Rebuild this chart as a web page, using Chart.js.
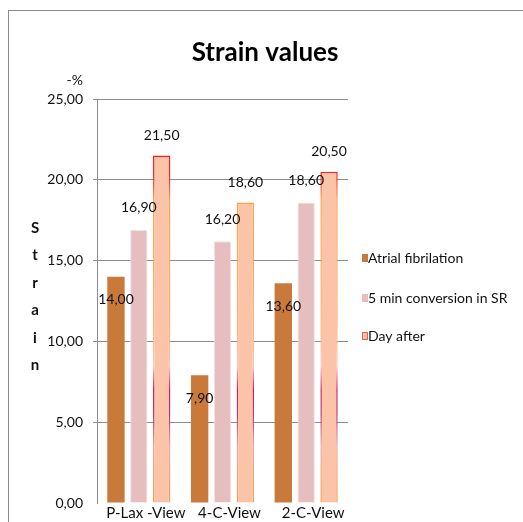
<!DOCTYPE html>
<html>
<head>
<meta charset="utf-8">
<title>Strain values</title>
<script src="https://cdn.jsdelivr.net/npm/chart.js@4/dist/chart.umd.min.js"></script>
<style>
  html, body { margin: 0; padding: 0; background: #fff; overflow: hidden; }
  #wrap { position: relative; width: 523px; height: 522px; }
  #frame { position: absolute; left: 8px; top: 10px; right: 0; bottom: 0;
           border-top: 1px solid #8a8a8a; border-left: 1px solid #8a8a8a; pointer-events: none; }
  canvas { position: absolute; left: 0; top: 0; }
</style>
</head>
<body>
<div id="wrap">
  <canvas id="chart" width="523" height="522"></canvas>
  <div id="frame"></div>
</div>
<script>
// Echocardiographic views on the category axis
const views = ['P-Lax -View', '4-C-View', '2-C-View'];

// Strain (-%) per view for each measurement time
const atrialFibrilation = [14.0, 7.9, 13.6];
const conversion5min = [16.9, 16.2, 18.6];
const dayAfter = [21.5, 18.6, 20.5];

const seriesNames = ['Atrial fibrilation', '5 min conversion in SR', 'Day after'];
const yTickValues = [0, 5, 10, 15, 20, 25];
const chartTitle = 'Strain values';
const unitLabel = '-%';
const axisWord = 'Strain';

const FONT = "Lato, 'DejaVu Sans Condensed', sans-serif";
const fmt = v => v.toFixed(2).replace('.', ',');

const ORANGE = '#C97A3B';
const PINK = '#E7BEC0';
const PEACH = '#FBC4A8';

// Outline of the "Day after" bars: red at the top, orange further down,
// with a crimson band lower on the bars.
let dayBorderGradient = null;
function dayBorder(ctx) {
  const chart = ctx.chart;
  const a = chart.chartArea;
  if (!a) return '#F5A040';
  if (!dayBorderGradient) {
    const g = chart.ctx.createLinearGradient(0, a.top, 0, a.bottom);
    g.addColorStop(0.00, '#FF1010');
    g.addColorStop(0.19, '#FF2020');
    g.addColorStop(0.25, '#F5A545');
    g.addColorStop(0.58, '#F8B57A');
    g.addColorStop(0.66, '#F9C8C8');
    g.addColorStop(0.72, '#D8145A');
    g.addColorStop(0.78, '#C03070');
    g.addColorStop(0.86, '#E8A8A8');
    g.addColorStop(1.00, '#F5A040');
    dayBorderGradient = g;
  }
  return dayBorderGradient;
}

// Vertical offset of each series' value label from the bar top
const labelOffsets = [23, -22, -20];

const extrasPlugin = {
  id: 'extras',
  afterDatasetsDraw(chart) {
    const ctx = chart.ctx;
    ctx.save();
    ctx.font = '14px ' + FONT;
    ctx.fillStyle = '#111';
    ctx.textAlign = 'center';
    ctx.textBaseline = 'middle';
    chart.data.datasets.forEach((ds, di) => {
      const meta = chart.getDatasetMeta(di);
      meta.data.forEach((bar, i) => {
        ctx.fillText(fmt(ds.data[i]), bar.x, bar.y + labelOffsets[di]);
      });
    });
    ctx.restore();
  },
  afterDraw(chart) {
    const ctx = chart.ctx;
    const y = chart.scales.y;
    const a = chart.chartArea;
    ctx.save();
    ctx.fillStyle = '#000';
    ctx.textBaseline = 'middle';

    // title
    ctx.font = 'bold 26px ' + FONT;
    ctx.textAlign = 'center';
    ctx.fillText(chartTitle, 265, 53);

    // unit above the value axis
    ctx.font = '14px ' + FONT;
    ctx.fillStyle = '#111';
    ctx.textAlign = 'right';
    ctx.fillText(unitLabel, a.left - 14, y.getPixelForValue(25) - 19);

    // stacked axis word
    ctx.font = 'bold 15px ' + FONT;
    ctx.textAlign = 'center';
    axisWord.split('').forEach((ch, k) => ctx.fillText(ch, 35, 228 + k * 27.5));

    // legend
    const ly = [258, 298, 336];
    ctx.font = '14px ' + FONT;
    ctx.textAlign = 'left';
    chart.data.datasets.forEach((ds, k) => {
      const mx = 362, my = ly[k] - 4;
      if (k === 2) {
        ctx.fillStyle = PEACH;
        ctx.fillRect(mx, my, 6, 8);
        ctx.strokeStyle = '#F06040';
        ctx.lineWidth = 1;
        ctx.strokeRect(mx + 0.5, my + 0.5, 5, 7);
      } else {
        ctx.fillStyle = ds.backgroundColor;
        ctx.fillRect(mx, my, 6, 8);
      }
      ctx.fillStyle = '#111';
      ctx.fillText(ds.label, 368, ly[k]);
    });
    ctx.restore();
  }
};

new Chart(document.getElementById('chart'), {
  type: 'bar',
  data: {
    labels: views,
    datasets: [
      { label: seriesNames[0], data: atrialFibrilation, backgroundColor: ORANGE,
        borderWidth: 0 },
      { label: seriesNames[1], data: conversion5min, backgroundColor: PINK,
        borderColor: '#F3E2E2', borderWidth: 1 },
      { label: seriesNames[2], data: dayAfter, backgroundColor: PEACH,
        borderColor: dayBorder, borderWidth: 1.5 }
    ]
  },
  options: {
    responsive: false,
    animation: false,
    devicePixelRatio: 1,
    categoryPercentage: 0.82,
    barPercentage: 0.76,
    layout: { padding: { top: 99, left: 0, right: 175, bottom: 0 } },
    plugins: {
      legend: { display: false },
      tooltip: { enabled: false },
      title: { display: false }
    },
    scales: {
      x: {
        grid: { display: false, drawTicks: false },
        border: { display: false },
        ticks: { color: '#111', font: { family: FONT, size: 15 }, padding: 1,
                 labelOffset: 7, maxRotation: 0, autoSkip: false },
        afterFit(s) { s.height = 19; }
      },
      y: {
        min: 0,
        max: 25,
        afterBuildTicks(s) { s.ticks = yTickValues.map(v => ({ value: v })); },
        ticks: { color: '#111', font: { family: FONT, size: 14 }, padding: 10,
                 callback: v => fmt(v) },
        grid: {
          color: c => (c.tick && c.tick.value === 0) ? 'rgba(0,0,0,0)' : '#8c8c8c',
          tickLength: 4,
          lineWidth: 1
        },
        border: { display: true, color: '#8c8c8c' },
        afterFit(s) { s.width = 97; }
      }
    }
  },
  plugins: [extrasPlugin]
});
</script>
</body>
</html>
